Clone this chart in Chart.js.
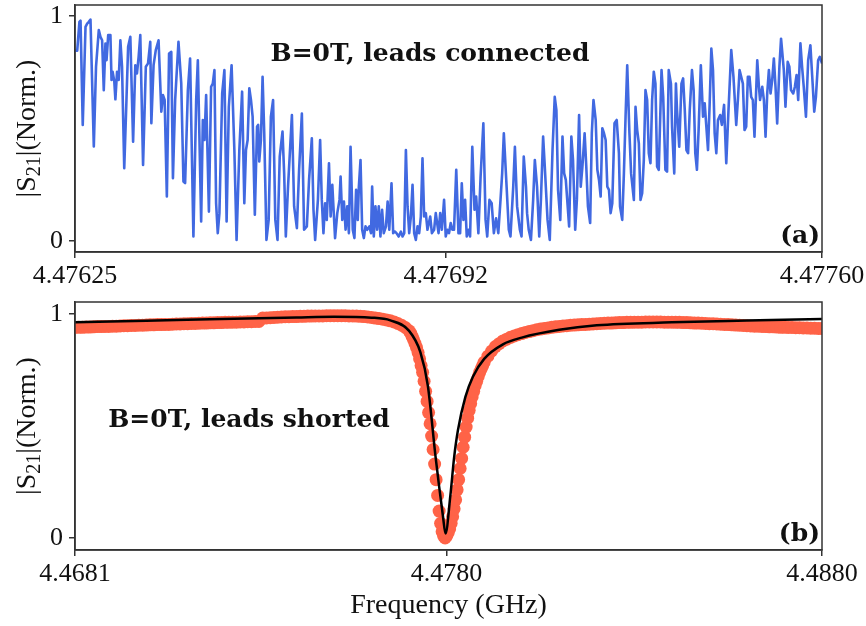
<!DOCTYPE html>
<html>
<head>
<meta charset="utf-8">
<script src="https://cdn.jsdelivr.net/npm/chart.js@4.4.1/dist/chart.umd.min.js"></script>
<style>
  html, body { margin: 0; padding: 0; background: #ffffff; }
  #wrap { position: relative; width: 866px; height: 626px; overflow: hidden; }
  canvas { position: absolute; left: 0; display: block; }
</style>
</head>
<body>
<div id="wrap">
  <canvas id="chartA" width="866" height="292" style="top:0px"></canvas>
  <canvas id="chartB" width="866" height="334" style="top:292px"></canvas>
</div>
<script>
// ---------------- DATA ----------------
// Panel (a): B=0T, leads connected. Frequency = 4.47625 GHz + offset (kHz)
const freqStartA = 4.47625;
const freqStopA = 4.47760;
const offsetA_kHz = [
  0,4,8,10,14,19,22,25,28,34, 38,43,46,49,52,55,57,60,64,66,
  68,71,73,76,79,82,85,89,93,96, 100,105,109,112,115,118,123,128,132,136,
  138,142,146,151,156,159,162,166,170,174, 177,181,187,192,196,199,204,208,214,219,
  222,
  228,231,234,237,242,246,249,252,255,258, 261,266,270,274,278,283,288,292,297,302,
  306,309,312,315,318,321,325,329,331,333, 336,339,342,346,350,354,358,362,366,370,
  375,378,381,385,392,396,401,405,410,414, 419,423,428,431,434,439,
  443,446,449,452,455,459,462,465,470,474, 478,480,483,486,489,492,495,498,502,505,
  508,511,513,516,519,522,525,528,532,535, 537,540,543,546,549,552,555,558,562,565,
  568,572,575,578,581,585,589,592,595,598, 601,604,607,610,613,616,619,622,625,628,
  631,634,637,642,645,649,652,657,660,663,
  667,670,673,676,679,682,685,689,693,696, 699,702,705,708,711,714,718,722,725,729,
  733,738,742,745,749,753,757,761,765,769, 772,775,780,784,787,792,795,799,804,807,
  811,815,817,820,824,828,831,835,839,842, 846,849,854,858,863,867,870,873,877,881,
  884,887,
  893,897,900,904,907,911,914,917,921,924, 927,931,934,937,941,944,947,950,953,956,
  959,962,965,968,971,975,979,983,985,989, 992,995,998,1002,1005,1010,1013,1016,1019,1022,
  1025,1028,1031,1034,1037,1040,1043,1046,1049,1052, 1055,1060,1063,1067,1070,1073,1077,1079,1083,1086,
  1088,1092,1096,1099,1102,1105,1108,1111,
  1115,1118,1121,1124,1127,1131,1135,1138,1141,1144, 1147,1150,1153,1156,1159,1162,1166,1169,1173,1177,
  1181,1186,1190,1195,1198,1201,1204,1207,1210,1213, 1216,1219,1222,1225,1228,1233,1236,1238,1242,1245,
  1248,1251,1254,1257,1260,1263,1266,1269,1273,1276, 1281,1284,1288,1291,1294,1298,1301,1304,1307,1311,
  1314,1317,1321,1325,1329,1332,1336,1339,1343,1346, 1350
];
const s21A = [
  0.847,0.847,0.975,0.98,0.516,0.953,0.967,0.975,0.985,0.42, 0.775,0.938,0.908,0.893,0.671,0.878,0.804,0.916,0.916,0.716,
  0.753,0.71,0.63,0.753,0.716,0.893,0.775,0.323,0.627,0.864, 0.908,0.441,0.782,0.745,0.819,0.916,0.338,0.775,0.79,0.886,
  0.524,0.782,0.849,0.893,0.575,0.649,0.627,0.197,0.834,0.841, 0.279,0.627,0.886,0.701,0.264,0.257,0.671,0.812,0.019,0.627,
  0.804,
  0.086,0.538,0.449,0.649,0.13,0.686,0.70,0.76,0.167,0.034, 0.123,0.656,0.76,0.086,0.597,0.782,0.404,0.004,0.404,0.664,
  0.167,0.404,0.449,0.679,0.627,0.553,0.116,0.508,0.516,0.353, 0.449,0.73,0.479,0.004,0.093,0.553,0.627,0.093,0.004,0.375,
  0.486,0.30,0.019,0.241,0.56,0.153,0.056,0.316,0.567,0.049, 0.064,0.271,0.456,0.138,0.004,0.182,
  0.449,0.182,0.034,0.167,0.093,0.345,0.108,0.249,0.012,0.123, 0.182,0.286,0.093,0.175,0.049,0.153,0.034,0.419,0.049,0.012,
  0.227,0.093,0.241,0.36,0.049,0.012,0.064,0.049,0.064,0.034, 0.241,0.019,0.153,0.049,0.153,0.019,0.138,0.034,0.064,0.175,
  0.049,0.256,0.034,0.041,0.034,0.019,0.041,0.019,0.034,0.404, 0.153,0.034,0.108,0.249,0.034,0.004,0.064,0.034,0.108,0.367,
  0.108,0.123,0.049,0.108,0.034,0.049,0.123,0.034,0.123,0.049,
  0.182,0.019,0.049,0.034,0.079,0.049,0.049,0.316,0.034,0.034, 0.256,0.093,0.182,0.019,0.049,0.019,0.419,0.138,0.197,0.034,
  0.286,0.523,0.093,0.019,0.182,0.167,0.034,0.10,0.034,0.182, 0.30,0.479,0.241,0.049,0.019,0.241,0.419,0.153,0.049,0.019,
  0.375,0.241,0.123,0.049,0.004,0.182,0.36,0.241,0.019,0.182, 0.464,0.33,0.093,0.004,0.404,0.641,0.582,0.227,0.093,0.464,
  0.30,0.271,
  0.064,0.464,0.36,0.049,0.182,0.56,0.241,0.33,0.479,0.33, 0.153,0.079,0.479,0.627,0.538,0.316,0.271,0.197,0.501,0.479,
  0.449,0.241,0.227,0.123,0.167,0.523,0.538,0.39,0.153,0.093, 0.30,0.553,0.782,0.479,0.30,0.182,0.597,0.493,0.434,0.182,
  0.212,0.36,0.671,0.627,0.39,0.345,0.627,0.753,0.70,0.33, 0.316,0.76,0.641,0.316,0.308,0.76,0.70,0.508,0.30,0.70,
  0.582,0.419,0.70,0.723,0.582,0.404,0.39,0.582,
  0.76,0.671,0.39,0.316,0.493,0.782,0.553,0.612,0.508,0.404, 0.612,0.856,0.76,0.479,0.39,0.538,0.56,0.516,0.605,0.345,
  0.582,0.849,0.73,0.516,0.627,0.76,0.73,0.70,0.493,0.508, 0.73,0.73,0.641,0.627,0.464,0.804,0.686,0.627,0.686,0.627,
  0.464,0.656,0.76,0.656,0.716,0.812,0.686,0.523,0.775,0.90, 0.76,0.597,0.797,0.775,0.671,0.656,0.686,0.738,0.627,0.879,
  0.775,0.686,0.553,0.804,0.871,0.745,0.575,0.641,0.804,0.819, 0.79
];
const tickValsA = [4.47625, 4.47692, 4.47760];
const tickLabelsA = ['4.47625', '4.47692', '4.47760'];

// Panel (b): B=0T, leads shorted. Measured points in three sweep segments (GHz)
const sweepLowStart = 4.4681, sweepLowStep = 0.0001;
const s21BLow = [
  0.940,0.941,0.941,0.942,0.942,0.943,0.944,0.944,0.945,0.945,
  0.946,0.946,0.947,0.948,0.948,0.949,0.949,0.950,0.950,0.951,
  0.952,0.952,0.953,0.953,0.954,0.954,0.955,0.956,0.956,0.957,
  0.957,0.958,0.958,0.959,0.960,0.960,0.961,0.961,0.962,0.962,
  0.963,0.963,0.964,0.964,0.965,0.965,0.966,0.966,0.967,0.967,
  0.982,0.983,0.984,0.985,0.986,0.987,0.988,0.988,0.989,0.989,
  0.990,0.990,0.991,0.991,0.992,0.992,0.992,0.993,0.993,0.993,
  0.993,0.993,0.993,0.992,0.992,0.991,0.990,0.989,0.987,0.985,
  0.982,0.980,0.977,0.974,0.970,0.965,0.958,0.950,0.940
];
const sweepDipStart = 4.4770, sweepDipStep = 0.00004;
const s21BDip = [
  0.925,0.915,0.900,0.885,0.868,0.850,0.828,0.800,0.770,0.740,
  0.700,0.655,0.610,0.560,0.510,0.455,0.395,0.330,0.260,0.190,
  0.120,0.065,0.028,0.008,0.000,0.008,0.022,0.040,0.065,0.095,
  0.130,0.170,0.215,0.260,0.310,0.355,0.405,0.450,0.495,0.535,
  0.570,0.600,0.630,0.655,0.680,0.700,0.720,0.740,0.755,0.770,
  0.785
];
const sweepHighStart = 4.4791, sweepHighStep = 0.0001;
const s21BHigh = [
  0.812,0.835,0.855,0.868,0.880,0.888,0.896,0.902,0.908,0.913,
  0.918,0.922,0.926,0.930,0.933,0.936,0.938,0.941,0.943,0.945,
  0.947,0.948,0.950,0.951,0.952,0.953,0.954,0.955,0.956,0.957,
  0.958,0.959,0.960,0.960,0.961,0.962,0.962,0.963,0.963,0.964,
  0.964,0.964,0.965,0.965,0.965,0.965,0.965,0.964,0.964,0.964,
  0.963,0.963,0.962,0.962,0.961,0.960,0.960,0.959,0.958,0.957,
  0.957,0.956,0.955,0.954,0.953,0.952,0.951,0.950,0.949,0.948,
  0.947,0.946,0.946,0.945,0.944,0.943,0.943,0.942,0.941,0.941,
  0.940,0.940,0.939,0.939,0.938,0.938,0.937,0.937,0.936,0.936
];
// Fit curve (black line)
const fitFreq = [4.4681,4.4700,4.4720,4.4740,4.4750,4.4760,4.4765,4.4770,4.4773,4.4775,
  4.4777,4.4778,4.4779,4.47797,4.4781,4.4782,4.4783,4.4785,4.4787,4.4790,
  4.4795,4.4800,4.4810,4.4820,4.4840,4.4860,4.4880];
const fitS21 = [0.964,0.970,0.978,0.985,0.988,0.984,0.972,0.925,0.83,0.68,
  0.37,0.23,0.10,0.02,0.19,0.36,0.48,0.63,0.72,0.80,
  0.865,0.895,0.93,0.95,0.963,0.971,0.978];
const tickValsB = [4.4681, 4.4780, 4.4880];
const tickLabelsB = ['4.4681', '4.4780', '4.4880'];

const yTickVals = [0, 1];
const yTickLabels = ['0', '1'];

// ---------------- STYLE ----------------
const SERIF = '"Liberation Serif", "Times New Roman", serif';
const BOLD_SERIF = '"DejaVu Serif", serif';
const axisColor = '#333333';
const textColor = '#111111';

function xAxis(min, max, vals, labels, height, withTitle) {
  return {
    type: 'linear', position: 'bottom', min: min, max: max, bounds: 'data',
    afterBuildTicks: s => { s.ticks = vals.map(v => ({ value: v })); },
    afterFit: s => { s.height = height; s.paddingLeft = 0; s.paddingRight = 0; },
    ticks: { callback: (v, i) => labels[i], autoSkip: false, maxRotation: 0, minRotation: 0,
             font: { family: SERIF, size: 26 }, color: textColor, padding: 3 },
    grid: { display: true, drawOnChartArea: false, drawTicks: true, tickLength: 6,
            tickWidth: 1.5, color: axisColor, lineWidth: 1.5 },
    border: { display: true, color: axisColor, width: 1.5 },
    title: withTitle ? { display: true, text: 'Frequency (GHz)', color: textColor,
             font: { family: SERIF, size: 28 }, padding: { top: 0, bottom: 4 } } : { display: false }
  };
}
function yAxis(min, max) {
  return {
    type: 'linear', position: 'left', min: min, max: max, bounds: 'data',
    afterBuildTicks: s => { s.ticks = yTickVals.map(v => ({ value: v })); },
    afterFit: s => { s.width = 75; s.paddingTop = 0; s.paddingBottom = 0; },
    ticks: { callback: (v, i) => yTickLabels[i], autoSkip: false,
             font: { family: SERIF, size: 26 }, color: textColor, padding: 6 },
    grid: { display: true, drawOnChartArea: false, drawTicks: true, tickLength: 6,
            tickWidth: 1.5, color: axisColor, lineWidth: 1.5 },
    border: { display: true, color: axisColor, width: 1.5 }
  };
}

function decorPlugin(label, labelX, labelY, tag) {
  return {
    id: 'decor',
    afterDraw(chart) {
      const { ctx, chartArea: a } = chart;
      ctx.save();
      // frame
      ctx.strokeStyle = axisColor; ctx.lineWidth = 1.5;
      ctx.strokeRect(a.left, a.top, a.right - a.left, a.bottom - a.top);
      // y title with subscript
      ctx.fillStyle = textColor;
      ctx.translate(35, (a.top + a.bottom) / 2);
      ctx.rotate(-Math.PI / 2);
      const f1 = '28px ' + SERIF, f2 = '20px ' + SERIF;
      ctx.font = f1; const w1 = ctx.measureText('|S').width; const w3 = ctx.measureText('|(Norm.)').width;
      ctx.font = f2; const w2 = ctx.measureText('21').width;
      let x = -(w1 + w2 + w3) / 2;
      ctx.textBaseline = 'alphabetic'; ctx.textAlign = 'left';
      ctx.font = f1; ctx.fillText('|S', x, 0); x += w1;
      ctx.font = f2; ctx.fillText('21', x, 5); x += w2;
      ctx.font = f1; ctx.fillText('|(Norm.)', x, 0);
      ctx.restore();
      // annotations
      ctx.save();
      ctx.fillStyle = textColor;
      ctx.font = 'bold 25px ' + BOLD_SERIF;
      ctx.textBaseline = 'alphabetic';
      ctx.textAlign = 'center';
      ctx.fillText(label, labelX, labelY);
      ctx.textAlign = 'right';
      ctx.fillText(tag, a.right - 2, a.bottom - 9);
      ctx.restore();
    }
  };
}

const common = {
  responsive: false, devicePixelRatio: 1, animation: false, events: [],
  plugins: { legend: { display: false }, tooltip: { enabled: false } }
};

// ---------------- CHART A ----------------
const dataA = offsetA_kHz.map((k, i) => ({ x: freqStartA + k * 1e-6, y: s21A[i] }));
new Chart(document.getElementById('chartA'), {
  type: 'line',
  data: { datasets: [{ data: dataA, borderColor: '#4169E1', borderWidth: 2.6, pointRadius: 0,
    tension: 0, borderJoinStyle: 'round', clip: 0 }] },
  options: Object.assign({}, common, {
    parsing: false,
    layout: { autoPadding: false, padding: { left: 0, right: 44, top: 5, bottom: 0 } },
    scales: { x: xAxis(freqStartA, freqStopA, tickValsA, tickLabelsA, 40, false), y: yAxis(-0.05, 1.05) }
  }),
  plugins: [decorPlugin('B=0T, leads connected', 430, 61, '(a)')]
});

// ---------------- CHART B ----------------
const dataB = [];
s21BLow.forEach((v, i) => dataB.push({ x: sweepLowStart + i * sweepLowStep, y: v }));
s21BDip.forEach((v, i) => dataB.push({ x: sweepDipStart + i * sweepDipStep, y: v }));
s21BHigh.forEach((v, i) => dataB.push({ x: sweepHighStart + i * sweepHighStep, y: v }));
const fitB = fitFreq.map((f, i) => ({ x: f, y: fitS21[i] }));
new Chart(document.getElementById('chartB'), {
  type: 'line',
  data: { datasets: [
    { data: fitB, borderColor: '#000000', borderWidth: 2.5, pointRadius: 0,
      cubicInterpolationMode: 'monotone', order: 0, clip: 0 },
    { data: dataB, showLine: false, pointRadius: 6.5, pointBorderWidth: 0,
      pointBackgroundColor: '#FF6347', borderColor: '#FF6347', order: 1, clip: 0 }
  ] },
  options: Object.assign({}, common, {
    parsing: false,
    layout: { autoPadding: false, padding: { left: 0, right: 44, top: 10, bottom: 0 } },
    scales: { x: xAxis(4.4681, 4.4880, tickValsB, tickLabelsB, 76, true), y: yAxis(-0.054, 1.054) }
  }),
  plugins: [decorPlugin('B=0T, leads shorted', 249, 135, '(b)')]
});
</script>
</body>
</html>
